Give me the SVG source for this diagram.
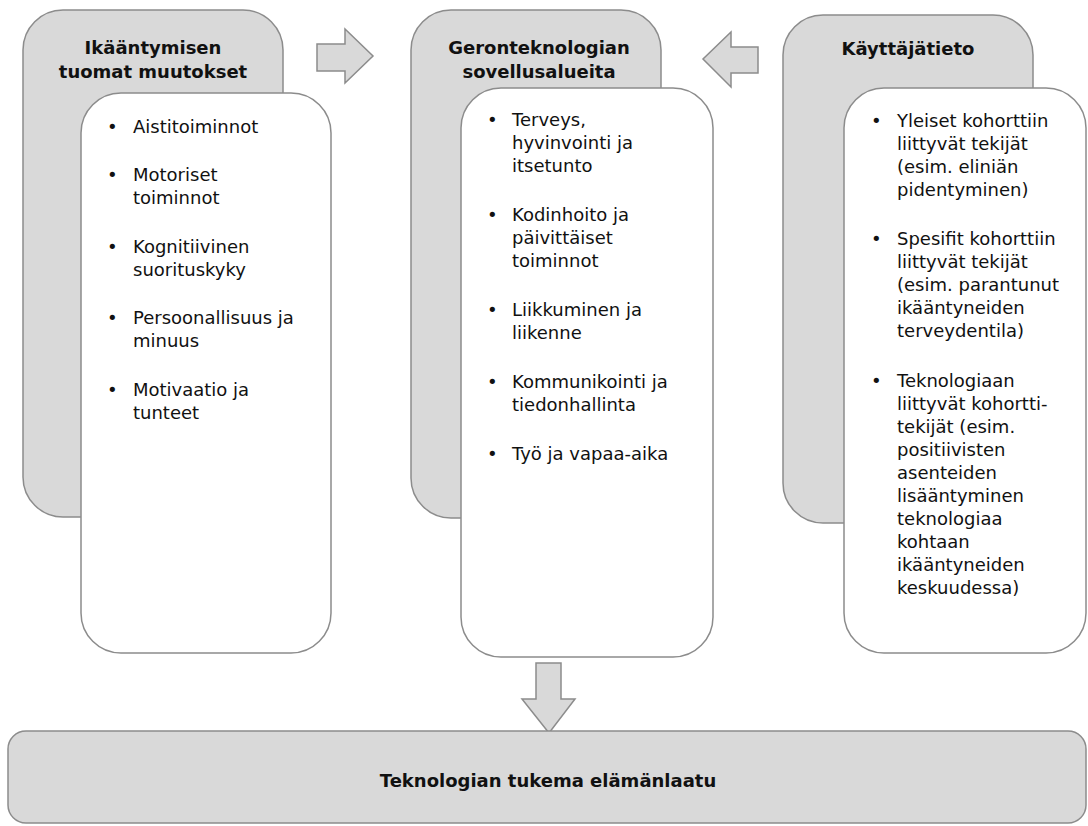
<svg xmlns="http://www.w3.org/2000/svg" width="1088" height="826" viewBox="0 0 1088 826">
<style>
.gray{fill:#d9d9d9;stroke:#8c8c8c;stroke-width:1.5}
.white{fill:#ffffff;stroke:#8c8c8c;stroke-width:1.5}
.arrow{fill:#d9d9d9;stroke:#8c8c8c;stroke-width:1.5;stroke-linejoin:miter}
.h{font-family:"DejaVu Sans",Verdana,sans-serif;font-weight:bold;font-size:18px;fill:#111;text-anchor:middle}
.t{font-family:"DejaVu Sans",Verdana,sans-serif;font-size:18px;fill:#111}
</style>
<rect width="1088" height="826" fill="#ffffff"/>
<g id="connectors">
<polygon class="arrow" points="317,44 345,44 345,29 373,56 345,83 345,71 317,71"/>
<polygon class="arrow" points="758,47 731,47 731,32 703,59 731,87 731,73 758,73"/>
<polygon class="arrow" points="536,663 561,663 561,699 575,699 549,733 522,699 536,699"/>
</g>
<g id="node-ageing">
<rect class="gray" x="23" y="10" width="260" height="507" rx="40"/>
<text class="h" x="153" y="54">Ikääntymisen</text>
<text class="h" x="153" y="78">tuomat muutokset</text>
<rect class="white" x="81" y="93" width="250" height="560" rx="40"/>
<g class="t">
<text x="107" y="133">•</text><text x="133" y="133">Aistitoiminnot</text>
<text x="107" y="181">•</text><text x="133" y="181">Motoriset</text>
<text x="133" y="204">toiminnot</text>
<text x="107" y="253">•</text><text x="133" y="253">Kognitiivinen</text>
<text x="133" y="276">suorituskyky</text>
<text x="107" y="324">•</text><text x="133" y="324">Persoonallisuus ja</text>
<text x="133" y="347">minuus</text>
<text x="107" y="396">•</text><text x="133" y="396">Motivaatio ja</text>
<text x="133" y="419">tunteet</text>
</g>
</g>
<g id="node-geron">
<rect class="gray" x="411" y="10" width="250" height="508" rx="40"/>
<text class="h" x="539" y="54">Geronteknologian</text>
<text class="h" x="539" y="78">sovellusalueita</text>
<rect class="white" x="461" y="88" width="252" height="569" rx="40"/>
<g class="t">
<text x="487" y="126">•</text><text x="512" y="126">Terveys,</text>
<text x="512" y="149">hyvinvointi ja</text>
<text x="512" y="172">itsetunto</text>
<text x="487" y="221">•</text><text x="512" y="221">Kodinhoito ja</text>
<text x="512" y="244">päivittäiset</text>
<text x="512" y="267">toiminnot</text>
<text x="487" y="316">•</text><text x="512" y="316">Liikkuminen ja</text>
<text x="512" y="339">liikenne</text>
<text x="487" y="388">•</text><text x="512" y="388">Kommunikointi ja</text>
<text x="512" y="411">tiedonhallinta</text>
<text x="487" y="460">•</text><text x="512" y="460">Työ ja vapaa-aika</text>
</g>
</g>
<g id="node-user">
<rect class="gray" x="783" y="15" width="250" height="508" rx="40"/>
<text class="h" x="908" y="55">Käyttäjätieto</text>
<rect class="white" x="844" y="88" width="242" height="565" rx="40"/>
<g class="t">
<text x="871" y="127">•</text><text x="897" y="127">Yleiset kohorttiin</text>
<text x="897" y="150">liittyvät tekijät</text>
<text x="897" y="173">(esim. eliniän</text>
<text x="897" y="196">pidentyminen)</text>
<text x="871" y="245">•</text><text x="897" y="245">Spesifit kohorttiin</text>
<text x="897" y="268">liittyvät tekijät</text>
<text x="897" y="291">(esim. parantunut</text>
<text x="897" y="314">ikääntyneiden</text>
<text x="897" y="337">terveydentila)</text>
<text x="871" y="387">•</text><text x="897" y="387">Teknologiaan</text>
<text x="897" y="410">liittyvät kohortti-</text>
<text x="897" y="433">tekijät (esim.</text>
<text x="897" y="456">positiivisten</text>
<text x="897" y="479">asenteiden</text>
<text x="897" y="502">lisääntyminen</text>
<text x="897" y="525">teknologiaa</text>
<text x="897" y="548">kohtaan</text>
<text x="897" y="571">ikääntyneiden</text>
<text x="897" y="594">keskuudessa)</text>
</g>
</g>
<g id="node-quality">
<rect class="gray" x="8" y="731" width="1078" height="92" rx="18"/>
<text class="h" x="548" y="787">Teknologian tukema elämänlaatu</text>
</g>
</svg>
